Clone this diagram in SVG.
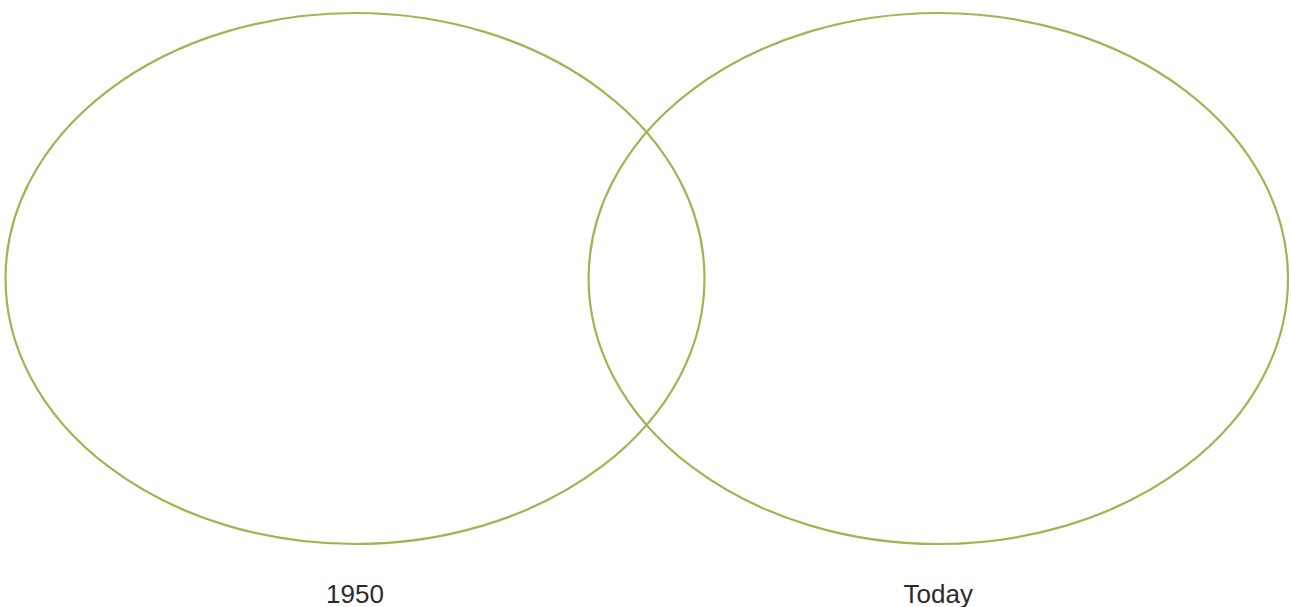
<svg xmlns="http://www.w3.org/2000/svg" width="1291" height="607" viewBox="0 0 1291 607">
<style>
.c{fill:none;stroke:#a0b452;stroke-width:2.2}
.t{font-family:"Liberation Sans",Arial,sans-serif;font-size:26px;fill:#2b2b2b;text-anchor:middle}
</style>
<rect width="1291" height="607" fill="#fff"/>
<g id="set-1950">
<ellipse class="c" cx="355" cy="278.5" rx="349.5" ry="265.5"/>
<text class="t" x="355" y="603">1950</text>
</g>
<g id="set-today">
<ellipse class="c" cx="938.3" cy="278.5" rx="349.7" ry="265.5"/>
<text class="t" x="938.3" y="603">Today</text>
</g>
<g id="connectors"></g>
</svg>
